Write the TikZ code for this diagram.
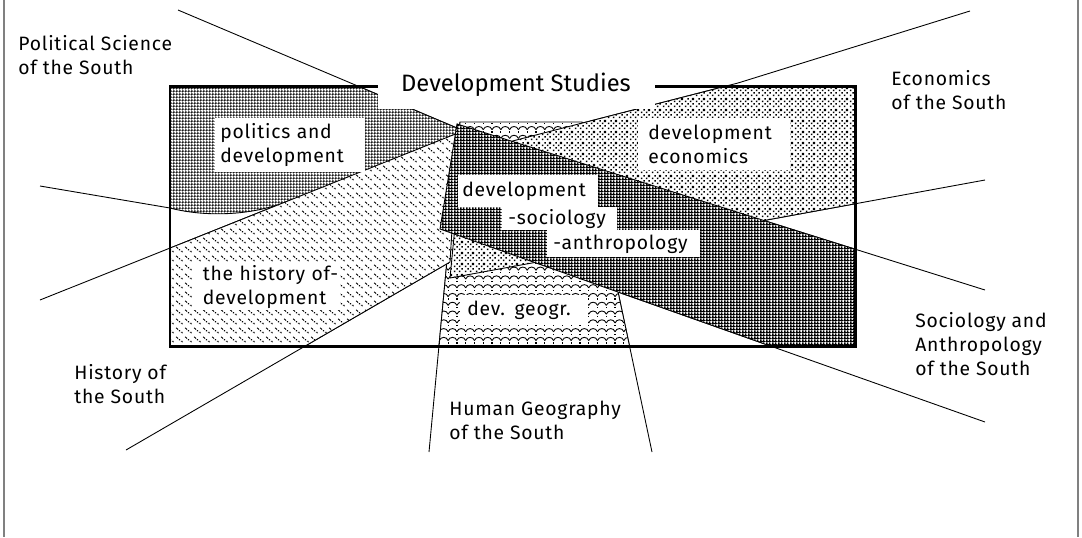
\documentclass[tikz,border=0pt]{standalone}
\usepackage{fontspec}
\setmainfont[LetterSpace=4]{Fira Sans}
\newfontfamily\headfont{Fira Sans}
\usepackage{tikz}
\usetikzlibrary{patterns}

\pgfdeclarepatternformonly{polmesh}{\pgfqpoint{0pt}{0pt}}{\pgfqpoint{1.8pt}{1.8pt}}{\pgfqpoint{1.8pt}{1.8pt}}{%
  \pgfpathrectangle{\pgfqpoint{0pt}{0pt}}{\pgfqpoint{1.8pt}{0.5pt}}%
  \pgfpathrectangle{\pgfqpoint{0pt}{0pt}}{\pgfqpoint{0.5pt}{1.8pt}}%
  \pgfpathrectangle{\pgfqpoint{1.0pt}{1.0pt}}{\pgfqpoint{0.35pt}{0.35pt}}%
  \pgfusepath{fill}}
\pgfdeclarepatternformonly{socmesh}{\pgfqpoint{0pt}{0pt}}{\pgfqpoint{3.6pt}{1.8pt}}{\pgfqpoint{3.6pt}{1.8pt}}{%
  \pgfpathrectangle{\pgfqpoint{0pt}{0pt}}{\pgfqpoint{3.6pt}{0.7pt}}%
  \pgfpathrectangle{\pgfqpoint{0pt}{0pt}}{\pgfqpoint{1.1pt}{1.8pt}}%
  \pgfpathrectangle{\pgfqpoint{1.8pt}{0pt}}{\pgfqpoint{0.9pt}{1.8pt}}%
  \pgfusepath{fill}}
\pgfdeclarepatternformonly{econdots}{\pgfqpoint{0pt}{0pt}}{\pgfqpoint{6pt}{6pt}}{\pgfqpoint{6pt}{6pt}}{%
  \pgfpathrectangle{\pgfqpoint{0.5pt}{0.5pt}}{\pgfqpoint{0.9pt}{0.9pt}}%
  \pgfpathrectangle{\pgfqpoint{3.5pt}{0.5pt}}{\pgfqpoint{0.9pt}{0.9pt}}%
  \pgfpathrectangle{\pgfqpoint{0.5pt}{3.5pt}}{\pgfqpoint{0.9pt}{0.9pt}}%
  \pgfpathrectangle{\pgfqpoint{3.5pt}{3.5pt}}{\pgfqpoint{0.9pt}{0.9pt}}%
  \pgfpathrectangle{\pgfqpoint{2pt}{2pt}}{\pgfqpoint{0.9pt}{0.9pt}}%
  \pgfpathrectangle{\pgfqpoint{5pt}{2pt}}{\pgfqpoint{0.9pt}{0.9pt}}%
  \pgfpathrectangle{\pgfqpoint{2pt}{5pt}}{\pgfqpoint{0.9pt}{0.9pt}}%
  \pgfpathrectangle{\pgfqpoint{4.7pt}{4.7pt}}{\pgfqpoint{1.3pt}{1.3pt}}%
  \pgfusepath{fill}}
\pgfdeclarepatternformonly{histdash}{\pgfqpoint{0pt}{0pt}}{\pgfqpoint{5pt}{5pt}}{\pgfqpoint{5pt}{5pt}}{%
  \pgfsetlinewidth{0.5pt}%
  \pgfpathmoveto{\pgfqpoint{0.6pt}{4.2pt}}\pgfpathlineto{\pgfqpoint{1.8pt}{3.2pt}}%
  \pgfpathmoveto{\pgfqpoint{3.4pt}{1.6pt}}\pgfpathlineto{\pgfqpoint{4.2pt}{1.6pt}}%
  \pgfpathlineto{\pgfqpoint{4.2pt}{0.9pt}}%
  \pgfusepath{stroke}%
  \pgfpathrectangle{\pgfqpoint{2.2pt}{2.1pt}}{\pgfqpoint{0.8pt}{0.8pt}}%
  \pgfusepath{fill}}
\pgfdeclarepatternformonly{geowave}{\pgfqpoint{-0.5pt}{-0.5pt}}{\pgfqpoint{5.5pt}{5.5pt}}{\pgfqpoint{5pt}{5pt}}{%
  \pgfsetlinewidth{0.5pt}%
  \pgfpathmoveto{\pgfqpoint{0pt}{1.8pt}}%
  \pgfpathcurveto{\pgfqpoint{0.8pt}{4.2pt}}{\pgfqpoint{4.2pt}{4.2pt}}{\pgfqpoint{5pt}{1.8pt}}%
  \pgfusepath{stroke}%
  \pgfpathrectangle{\pgfqpoint{4.65pt}{0.1pt}}{\pgfqpoint{0.7pt}{0.7pt}}%
  \pgfusepath{fill}}

\begin{document}
\begin{tikzpicture}[x=0.2mm, y=-0.2mm,
    edge/.style={line width=0.5pt},
    field/.style={preaction={fill=white}, draw, line width=0.5pt},
    fieldlabel/.style={fill=white, align=left, anchor=north west, inner ysep=0pt,
      font=\fontsize{11}{13.6}\selectfont},
    discipline/.style={align=left, anchor=west, inner sep=0pt,
      font=\fontsize{11}{13.6}\selectfont}]
    \useasboundingbox (0,0) rectangle (1082,537);
    \draw[gray, line width=1pt] (4,0) -- (4,537);
    \draw[gray, line width=1pt] (1078,0) -- (1078,537);

    \coordinate (polA) at (178,10);  \coordinate (polB) at (457,128);
    \coordinate (polC) at (40,186);  \coordinate (polD) at (170,208);
    \coordinate (histA) at (40,300); \coordinate (histB) at (458,133);
    \coordinate (histC) at (126,450); \coordinate (histD) at (450,262);
    \coordinate (geoA) at (429,452); \coordinate (geoB) at (460,122);
    \coordinate (geoC) at (652,452); \coordinate (geoD) at (582,122);
    \coordinate (econA) at (970,11); \coordinate (econE) at (738,83);
    \coordinate (econB) at (462,154);
    \coordinate (econC) at (985,180); \coordinate (econD) at (450,278);
    \coordinate (socA) at (985,290); \coordinate (socB) at (457,124);
    \coordinate (socC) at (985,422); \coordinate (socD) at (440,229);

    \draw[edge] (polA) -- (polB);
    \draw[edge] (polC) -- (polD);
    \draw[edge] (histA) -- (histB);
    \draw[edge] (histC) -- (histD);
    \draw[edge] (geoA) -- (geoB);
    \draw[edge] (geoC) -- (geoD);
    \draw[edge] (econA) -- (econE) -- (econB);
    \draw[edge] (econC) -- (econD);
    \draw[edge] (socA) -- (socB);
    \draw[edge] (socC) -- (socD);

    \node[draw, line width=1.7pt, outer sep=0pt, anchor=north west,
      minimum width=137mm, minimum height=52mm] (studies) at (170,86) {};

    \begin{scope}
        \clip (studies.north west) rectangle (studies.south east);
        \path[field, pattern=geowave] (geoA) -- (geoB) -- (geoD) -- (geoC) -- cycle;
        \path[field, pattern=econdots] (econA) -- (econE) -- (econB) -- (econD) -- (econC) -- cycle;
        \path[field, pattern=polmesh] (polA) -- (polB) -- (455,190) -- (293,199)
            .. controls (250,218) and (200,216) .. (polD) -- (polC) -- cycle;
        \path[field, pattern=histdash] (histA) -- (histB) -- (histD) -- (histC) -- cycle;
        \path[field, pattern=socmesh] (socA) -- (socB) -- (socD) -- (socC) -- cycle;
    \end{scope}
    \draw[line width=1.7pt] (studies.north west) rectangle (studies.south east);

    \node[fill=white, minimum width=55.4mm, minimum height=9.8mm, inner sep=0pt,
      font=\headfont\fontsize{13.5}{16}\selectfont] (title) at (516,84.5) {Development Studies};

    \node[fieldlabel, inner xsep=1mm, text width=28mm, minimum height=10.8mm]
      (politics) at (215,118) {politics and\\development};
    \node[fieldlabel, inner xsep=2mm, text width=26.4mm, minimum height=10.4mm]
      (economics) at (638,118) {development\\economics};
    \node[fieldlabel, inner xsep=0.8mm, text width=26.4mm, minimum height=6.4mm]
      (sociology) at (458,175) {development};
    \node[fieldlabel, inner xsep=1.2mm, text width=20.6mm, minimum height=4.6mm]
      (sociologyb) at (502,207) {\mbox{-sociology}};
    \node[fieldlabel, inner xsep=1.2mm, text width=28.2mm, minimum height=5.4mm]
      (sociologyc) at (547,230) {\mbox{-anthropology}};
    \node[fieldlabel, inner xsep=1.9mm, text width=25.6mm, minimum height=9.4mm]
      (history) at (193,263) {\mbox{the history of-}\\development};
    \node[fieldlabel, inner xsep=1.4mm, text width=22.8mm, minimum height=6mm]
      (geography) at (460,295) {dev. geogr.};

    \node[discipline] (polsouth) at (18,55) {Political Science\\of the South};
    \node[discipline] (econsouth) at (891,90) {Economics\\of the South};
    \node[discipline] (socsouth) at (915,344) {Sociology and\\Anthropology\\of the South};
    \node[discipline] (histsouth) at (74,384) {History of\\the South};
    \node[discipline] (geosouth) at (449,420) {Human Geography\\of the South};
\end{tikzpicture}
\end{document}
